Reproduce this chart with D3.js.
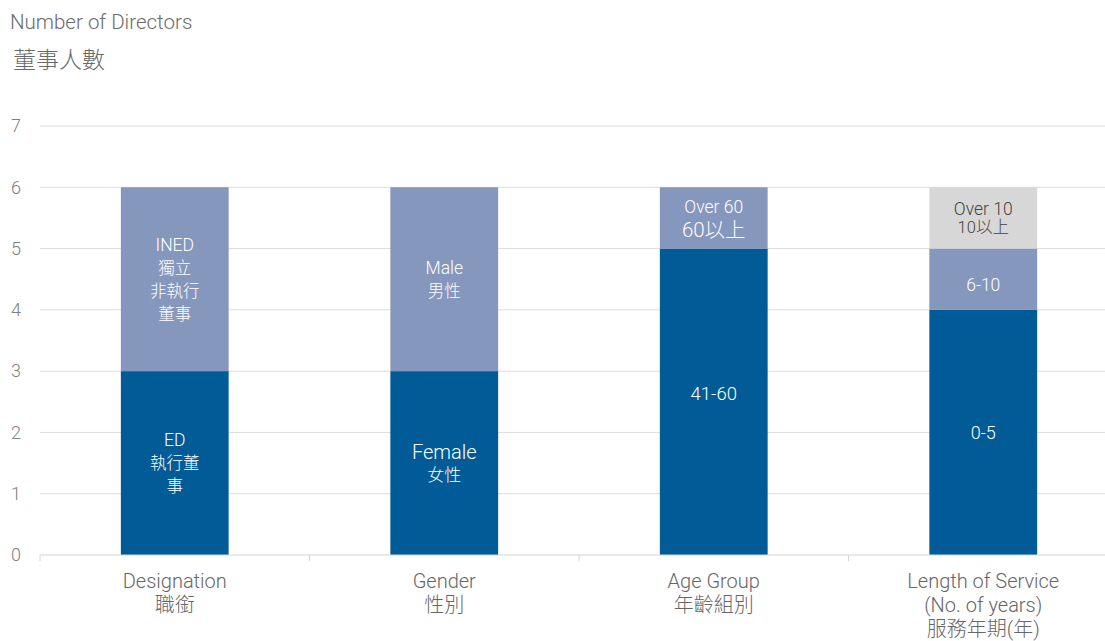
<!DOCTYPE html>
<html>
<head>
<meta charset="utf-8">
<script src="https://cdnjs.cloudflare.com/ajax/libs/d3/7.8.5/d3.min.js"></script>
<style>
  body { margin: 0; background: #fff; }
  svg text { font-family: Roboto, "Noto Sans CJK TC", sans-serif; }
</style>
</head>
<body>
<svg id="chart" width="1105" height="641"></svg>
<script>
"use strict";

// categories (english + chinese lines)
var categories = ["Designation", "Gender", "Age Group", "Length of Service"];
var categoryLines = [
	["Designation", "職銜"],
	["Gender", "性別"],
	["Age Group", "年齡組別"],
	["Length of Service", "(No. of years)", "服務年期(年)"]
];

// stacked series, bottom to top
var bottomValues = [3, 3, 5, 4];
var middleValues = [3, 3, 1, 1];
var topValues = [0, 0, 0, 1];

var bottomLabels = [["ED", "執行董", "事"], ["Female", "女性"], ["41-60"], ["0-5"]];
var middleLabels = [["INED", "獨立", "非執行", "董事"], ["Male", "男性"], ["Over 60", "60以上"], ["6-10"]];
var topLabels = [[], [], [], ["Over 10", "10以上"]];

var yTicks = [0, 1, 2, 3, 4, 5, 6, 7];

var Chart = (function(){
	var svg = d3.select("#chart");
	var colors = ["#005b96", "#8597bd", "#d7d7d7"];
	var textColors = ["#ffffff", "#ffffff", "#444444"];
	var sizeOverride = { "Female": 20, "女性": 17, "60以上": 20.5, "41-60": 18.5, "0-5": 18, "6-10": 17.5 };
	var cjk = /[\u4e00-\u9fff]/;

	var x = d3.scaleBand().domain(categories).range([40, 1118])
		.paddingInner(0.6).paddingOuter(0.3);
	var y = d3.scaleLinear().domain([0, 7]).range([555, 126]);

	function drawTitle() {
		svg.append("text").attr("x", 10).attr("y", 29).attr("font-weight", 300)
			.attr("font-size", 20.5).attr("fill", "#6a6a6a").text("Number of Directors");
		svg.append("text").attr("x", 13).attr("y", 68).attr("font-weight", 300)
			.attr("font-size", 23).attr("fill", "#6a6a6a").text("董事人數");
	}

	function drawGrid() {
		svg.append("g").selectAll("line").data(yTicks.slice(1)).enter().append("line")
			.attr("x1", 40).attr("x2", 1105)
			.attr("y1", function(d){ return y(d); }).attr("y2", function(d){ return y(d); })
			.attr("stroke", "#dcdcdc").attr("stroke-width", 1);

		var yAxis = svg.append("g")
			.call(d3.axisLeft(y).tickValues(yTicks).tickFormat(d3.format("d")).tickSize(0).tickPadding(0));
		yAxis.select(".domain").remove();
		yAxis.selectAll("text").attr("x", 21).attr("text-anchor", "end")
			.attr("font-weight", 300).attr("font-size", 18).attr("fill", "#808080");
	}

	function drawBars() {
		var rows = categories.map(function(c, i){
			return { cat: c, bottom: bottomValues[i], middle: middleValues[i], top: topValues[i] };
		});
		var stack = d3.stack().keys(["bottom", "middle", "top"])(rows);
		var g = svg.append("g");
		stack.forEach(function(layer, li) {
			g.selectAll(".s" + li).data(layer).enter().append("rect")
				.attr("x", function(d){ return x(d.data.cat); })
				.attr("width", x.bandwidth())
				.attr("y", function(d){ return y(d[1]); })
				.attr("height", function(d){ return y(d[0]) - y(d[1]); })
				.attr("fill", colors[li]);
		});

		var labelSets = [bottomLabels, middleLabels, topLabels];
		stack.forEach(function(layer, li) {
			layer.forEach(function(d, i) {
				var lines = labelSets[li][i];
				if (!lines.length || d[1] === d[0]) return;
				var cx = x(d.data.cat) + x.bandwidth() / 2;
				var cy = (y(d[0]) + y(d[1])) / 2;
				var lh = li === 2 ? 18 : 23;
				var start = cy - (lines.length - 1) * lh / 2;
				if (li === 0 && i === 2) start -= 8;
				if (li === 1 && i === 3) start += 5;
				lines.forEach(function(t, k) {
					var fs = sizeOverride[t] || (cjk.test(t) ? 16.5 : 17.5);
					svg.append("text").attr("x", cx).attr("y", start + k * lh)
						.attr("dy", "0.36em").attr("text-anchor", "middle")
						.attr("font-weight", 300)
						.attr("font-size", fs)
						.attr("fill", textColors[li]).text(t);
				});
			});
		});
	}

	function drawXAxis() {
		var xAxis = svg.append("g").attr("transform", "translate(0," + y(0) + ")");
		xAxis.append("line").attr("x1", 40).attr("x2", 1105)
			.attr("stroke", "#d4d4d4");
		var edges = categories.map(function(c){ return x(c) + x.bandwidth() / 2 - x.step() / 2; });
		xAxis.selectAll(".tk").data(edges).enter().append("line")
			.attr("x1", function(d){ return d; }).attr("x2", function(d){ return d; })
			.attr("y1", 0).attr("y2", 6).attr("stroke", "#d4d4d4");

		categories.forEach(function(c, i) {
			var cx = x(c) + x.bandwidth() / 2;
			categoryLines[i].forEach(function(t, k) {
				svg.append("text").attr("x", cx).attr("y", 588 + k * 24)
					.attr("text-anchor", "middle").attr("font-size", 20)
					.attr("font-weight", 300)
					.attr("fill", "#666666").text(t);
			});
		});
	}

	function init() {
		drawTitle();
		drawGrid();
		drawBars();
		drawXAxis();
	}

	return { "init": init };
}());

Chart.init();
</script>
</body>
</html>
